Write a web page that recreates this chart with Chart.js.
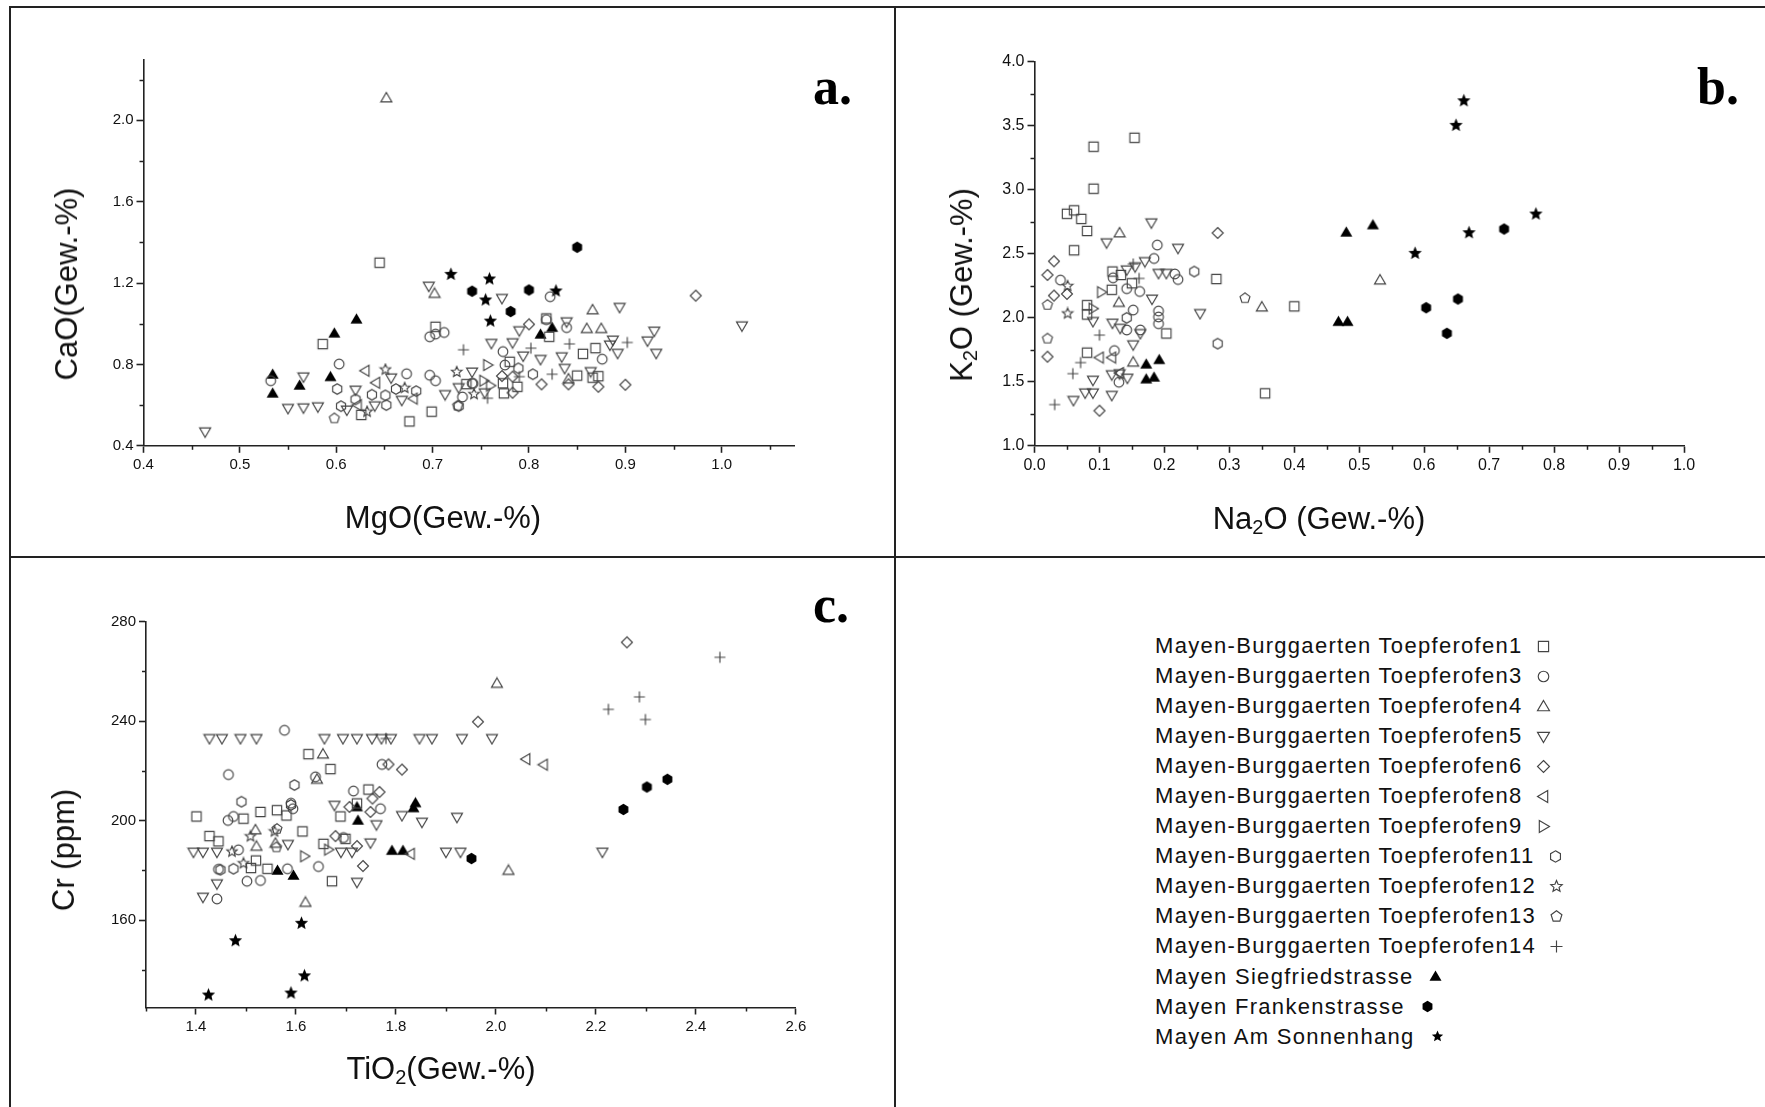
<!DOCTYPE html>
<html>
<head>
<meta charset="utf-8">
<script src="https://cdn.jsdelivr.net/npm/chart.js@4.4.0/dist/chart.umd.min.js"></script>
<style>
  body { margin: 0; background: #fff; }
  #page { position: relative; width: 1765px; height: 1107px; overflow: hidden; font-family: "Liberation Sans", Arial, sans-serif; }
  canvas.panel { position: absolute; }
  .line { position: absolute; background: #222; }
  .ttl { position: absolute; font-size: 31px; color: #111; white-space: nowrap; }
  .rot { transform: translate(-50%, -50%) rotate(-90deg); }
  .hz { transform: translate(-50%, -50%); }
  .ttl sub { font-size: 20px; vertical-align: -5px; line-height: 0; }
  .tag { position: absolute; font-family: "Liberation Serif", "Times New Roman", serif; font-weight: bold; font-size: 52px; line-height: 1; color: #000; }
  #legend { position: absolute; left: 1155px; top: 631px; font-size: 22px; letter-spacing: 1.3px; color: #111; }
  #legend div { height: 30.05px; white-space: nowrap; display: flex; align-items: center; }
</style>
</head>
<body>
<div id="page">
  <div class="line" style="left:9px;top:6px;width:2px;height:1101px"></div>
  <div class="line" style="left:9px;top:6px;width:1756px;height:2px"></div>
  <div class="line" style="left:894px;top:6px;width:2px;height:1101px"></div>
  <div class="line" style="left:9px;top:556px;width:1756px;height:2px"></div>

  <canvas id="chartA" class="panel" width="884" height="549" style="left:11px;top:8px"></canvas>
  <canvas id="chartB" class="panel" width="869" height="549" style="left:896px;top:8px"></canvas>
  <canvas id="chartC" class="panel" width="884" height="549" style="left:11px;top:558px"></canvas>

  <div class="ttl rot" style="left:67px;top:284px">CaO(Gew.-%)</div>
  <div class="ttl hz" style="left:443px;top:518px">MgO(Gew.-%)</div>
  <div class="ttl rot" style="left:962px;top:285px">K<sub>2</sub>O (Gew.-%)</div>
  <div class="ttl hz" style="left:1319px;top:519px">Na<sub>2</sub>O (Gew.-%)</div>
  <div class="ttl rot" style="left:64px;top:850px">Cr (ppm)</div>
  <div class="ttl hz" style="left:441px;top:1069px">TiO<sub>2</sub>(Gew.-%)</div>

  <div class="tag" style="left:813px;top:61px">a.</div>
  <div class="tag" style="left:1697px;top:61px">b.</div>
  <div class="tag" style="left:813px;top:579px">c.</div>

  <div id="legend"></div>
</div>
<script>
// series (kilns / sites)
const seriesNames = [
  'Mayen-Burggaerten Toepferofen1', 'Mayen-Burggaerten Toepferofen3', 'Mayen-Burggaerten Toepferofen4',
  'Mayen-Burggaerten Toepferofen5', 'Mayen-Burggaerten Toepferofen6', 'Mayen-Burggaerten Toepferofen8',
  'Mayen-Burggaerten Toepferofen9', 'Mayen-Burggaerten Toepferofen11', 'Mayen-Burggaerten Toepferofen12',
  'Mayen-Burggaerten Toepferofen13', 'Mayen-Burggaerten Toepferofen14',
  'Mayen Siegfriedstrasse', 'Mayen Frankenstrasse', 'Mayen Am Sonnenhang'
];
const seriesShapes = ['square', 'circle', 'triUp', 'triDown', 'diamond', 'triLeft', 'triRight',
  'hexagon', 'star', 'pentagon', 'plus', 'triUp', 'hexagon', 'star'];
const seriesFilled = [false, false, false, false, false, false, false, false, false, false, false, true, true, true];

// ---- a. MgO (x) / CaO (y) ----
const a_T1 = [[0.645,1.30],[0.586,0.90],[0.703,0.985],[0.626,0.552],[0.676,0.52],[0.699,0.568],[0.818,1.026],[0.821,0.936],
  [0.856,0.852],[0.869,0.88],[0.85,0.745],[0.872,0.742],[0.866,0.735],[0.78,0.813],[0.773,0.707],[0.788,0.69],[0.774,0.658],[0.735,0.703]];
const a_T3 = [[0.532,0.72],[0.603,0.802],[0.697,0.936],[0.703,0.949],[0.712,0.957],[0.697,0.747],[0.703,0.72],[0.673,0.754],
  [0.731,0.64],[0.742,0.706],[0.822,1.133],[0.818,1.02],[0.839,0.981],[0.773,0.863],[0.876,0.826],[0.775,0.797],[0.741,0.707]];
const a_T4 = [[0.652,2.11],[0.702,1.149],[0.866,1.068],[0.86,0.976],[0.875,0.976],[0.841,0.728]];
const a_T5 = [[0.464,0.469],[0.55,0.584],[0.566,0.587],[0.581,0.592],[0.566,0.739],[0.611,0.576],[0.62,0.674],[0.64,0.597],
  [0.657,0.734],[0.668,0.624],[0.696,1.185],[0.713,0.652],[0.741,0.763],[0.727,0.686],[0.772,1.125],[0.761,0.904],[0.783,0.907],
  [0.79,0.966],[0.794,0.842],[0.812,0.825],[0.839,1.01],[0.834,0.838],[0.837,0.781],[0.864,0.765],[0.894,1.081],[0.887,0.92],
  [0.884,0.896],[0.892,0.855],[0.923,0.916],[0.93,0.964],[0.932,0.855],[1.021,0.99],[0.754,0.661]];
const a_T6 = [[0.973,1.138],[0.8,0.997],[0.772,0.743],[0.783,0.74],[0.813,0.702],[0.841,0.702],[0.872,0.69],[0.9,0.70],[0.783,0.661]];
const a_T8 = [[0.63,0.769],[0.641,0.71],[0.68,0.632],[0.622,0.60]];
const a_T9 = [[0.757,0.797],[0.753,0.72],[0.76,0.696]];
const a_T11 = [[0.601,0.679],[0.605,0.595],[0.62,0.628],[0.637,0.651],[0.651,0.648],[0.652,0.60],[0.662,0.679],[0.683,0.669],
  [0.727,0.595],[0.789,0.781],[0.804,0.752]];
const a_T12 = [[0.632,0.568],[0.651,0.775],[0.671,0.685],[0.725,0.763],[0.743,0.654]];
const a_T13 = [[0.598,0.535],[0.726,0.597]];
const a_T14 = [[0.732,0.872],[0.802,0.88],[0.842,0.901],[0.902,0.908],[0.824,0.752],[0.757,0.634],[0.79,0.74]];
const a_Sieg = [[0.534,0.751],[0.534,0.658],[0.562,0.697],[0.594,0.739],[0.598,0.953],[0.621,1.022],[0.812,0.948],[0.824,0.981]];
const a_Frank = [[0.85,1.376],[0.741,1.16],[0.8,1.166],[0.781,1.06]];
const a_Sonnen = [[0.719,1.243],[0.759,1.22],[0.755,1.117],[0.76,1.013],[0.828,1.161]];

// ---- b. Na2O (x) / K2O (y) ----
const b_T1 = [[0.154,3.407],[0.091,3.337],[0.091,3.009],[0.05,2.813],[0.061,2.84],[0.072,2.773],[0.081,2.679],[0.061,2.528],
  [0.081,2.099],[0.081,2.026],[0.081,1.728],[0.12,2.362],[0.119,2.219],[0.133,2.335],[0.203,1.878],[0.28,2.303],[0.40,2.09],
  [0.355,1.41],[0.15,2.27]];
const b_T3 = [[0.189,2.569],[0.184,2.464],[0.191,2.053],[0.191,2.007],[0.191,1.954],[0.152,2.061],[0.142,1.905],[0.163,1.905],
  [0.123,1.744],[0.13,1.497],[0.216,2.343],[0.221,2.3],[0.162,2.206],[0.142,2.228],[0.121,2.313],[0.04,2.295]];
const b_T4 = [[0.131,2.663],[0.152,1.653],[0.35,2.084],[0.532,2.295],[0.13,2.12]];
const b_T5 = [[0.18,2.743],[0.111,2.587],[0.221,2.544],[0.255,2.034],[0.09,1.972],[0.06,1.355],[0.09,1.513],[0.09,1.414],
  [0.078,1.414],[0.119,1.395],[0.119,1.556],[0.131,1.564],[0.143,1.529],[0.152,1.79],[0.163,1.878],[0.181,2.147],[0.17,2.44],
  [0.155,2.4],[0.191,2.348],[0.203,2.348],[0.142,2.375],[0.12,1.959],[0.132,1.919]];
const b_T6 = [[0.282,2.663],[0.03,2.442],[0.02,2.335],[0.03,2.174],[0.02,1.696],[0.1,1.274],[0.05,2.187]];
const b_T8 = [[0.1,1.69],[0.119,1.69],[0.131,1.569]];
const b_T9 = [[0.103,2.2],[0.09,2.072]];
const b_T11 = [[0.246,2.362],[0.282,1.798],[0.142,2.0]];
const b_T12 = [[0.051,2.034],[0.051,2.249]];
const b_T13 = [[0.02,2.101],[0.02,1.838],[0.324,2.154]];
const b_T14 = [[0.031,1.322],[0.059,1.564],[0.071,1.65],[0.1,1.865],[0.152,2.421],[0.161,2.308]];
const b_Sieg = [[0.172,1.637],[0.192,1.672],[0.172,1.521],[0.184,1.535],[0.48,2.668],[0.521,2.725],[0.468,1.97],[0.482,1.97]];
const b_Frank = [[0.603,2.079],[0.652,2.147],[0.635,1.879],[0.723,2.694]];
const b_Sonnen = [[0.661,3.696],[0.649,3.504],[0.772,2.811],[0.669,2.665],[0.586,2.504]];

// ---- c. TiO2 (x) / Cr (y) ----
const c_T1 = [[1.625,226.7],[1.669,220.7],[1.401,201.7],[1.495,200.8],[1.529,203.5],[1.562,204.2],[1.581,202.1],[1.427,193.8],
  [1.445,191.7],[1.51,181],[1.543,180.7],[1.613,195.7],[1.655,190.7],[1.689,201.7],[1.699,192.7],[1.722,206.9],[1.745,212.5],
  [1.672,175.7],[1.52,184]];
const c_T3 = [[1.577,236.3],[1.465,218.5],[1.464,200.1],[1.475,201.7],[1.485,188.3],[1.502,175.7],[1.529,176],[1.442,168.6],
  [1.583,180.7],[1.645,181.6],[1.695,193.2],[1.715,211.9],[1.769,204.8],[1.772,222.6],[1.639,217.6],[1.594,204.8],[1.59,207],[1.445,180.5]];
const c_T4 = [[1.654,226.7],[1.642,216.6],[1.519,196.3],[1.521,189.7],[1.559,190.9],[1.619,167.2],[2.002,255.1],[2.025,180]];
const c_T5 = [[1.427,233],[1.452,233],[1.489,233],[1.521,233],[1.657,233],[1.694,233],[1.722,233],[1.752,233],[1.771,233],
  [1.79,233],[1.847,233],[1.872,233],[1.932,233],[1.992,233],[1.677,206.2],[1.761,198.4],[1.812,202.1],[1.852,199.4],
  [1.922,201.4],[1.749,191.1],[1.584,190.5],[1.395,187.4],[1.414,187.4],[1.442,187.4],[1.69,187.4],[1.712,187.4],[1.9,187.4],
  [1.929,187.4],[1.722,175.3],[1.442,174.7],[1.414,169.3],[2.213,187.4]];
const c_T6 = [[1.964,239.7],[1.785,222.6],[1.812,220.5],[1.767,211.5],[1.753,208.9],[1.749,203.5],[1.707,205.5],[1.679,193.8],
  [1.722,189.8],[1.734,181.8],[2.262,271.6]];
const c_T8 = [[1.829,186.7],[2.06,224.7],[2.095,222.5]];
const c_T9 = [[1.617,185.7],[1.665,188.4]];
const c_T11 = [[1.597,214.3],[1.491,207.6],[1.59,206.3],[1.449,180.3],[1.475,180.7]];
const c_T12 = [[1.509,193.7],[1.557,195.7],[1.472,187.6],[1.495,182.9]];
const c_T13 = [[1.562,196.7],[1.561,189.3]];
const c_T14 = [[2.448,265.6],[2.287,249.7],[2.225,244.7],[2.299,240.6],[1.78,233]];
const c_Sieg = [[1.722,205.5],[1.724,200.1],[1.839,207.1],[1.835,205.1],[1.792,188],[1.814,188],[1.563,180],[1.595,178]];
const c_Frank = [[1.951,184.8],[2.255,204.5],[2.302,213.5],[2.343,216.6]];
const c_Sonnen = [[1.425,130],[1.479,151.8],[1.59,130.8],[1.611,158.8],[1.617,137.7]];

// ticks
const aXTicks = [0.4, 0.5, 0.6, 0.7, 0.8, 0.9, 1.0];
const aXMinor = [0.45, 0.55, 0.65, 0.75, 0.85, 0.95, 1.05];
const aYTicks = [0.4, 0.8, 1.2, 1.6, 2.0];
const aYMinor = [0.6, 1.0, 1.4, 1.8, 2.2];
const bXTicks = [0.0, 0.1, 0.2, 0.3, 0.4, 0.5, 0.6, 0.7, 0.8, 0.9, 1.0];
const bXMinor = [0.05, 0.15, 0.25, 0.35, 0.45, 0.55, 0.65, 0.75, 0.85, 0.95];
const bYTicks = [1.0, 1.5, 2.0, 2.5, 3.0, 3.5, 4.0];
const bYMinor = [1.25, 1.75, 2.25, 2.75, 3.25, 3.75];
const cXTicks = [1.4, 1.6, 1.8, 2.0, 2.2, 2.4, 2.6];
const cXMinor = [1.3, 1.5, 1.7, 1.9, 2.1, 2.3, 2.5];
const cYTicks = [160, 200, 240, 280];
const cYMinor = [140, 180, 220, 260];

function makeSymbol(shape, filled, size) {
  const c = document.createElement('canvas');
  c.width = size; c.height = size;
  const g = c.getContext('2d');
  const m = size / 2;
  const r = size / 2 - 1.5;
  const poly = (n, start, rad) => {
    for (let k = 0; k < n; k++) {
      const a = (start + k * 360 / n) * Math.PI / 180;
      const px = m + rad * Math.cos(a), py = m + rad * Math.sin(a);
      k === 0 ? g.moveTo(px, py) : g.lineTo(px, py);
    }
    g.closePath();
  };
  g.beginPath();
  switch (shape) {
    case 'square': g.rect(m - r * 0.85, m - r * 0.85, r * 1.7, r * 1.7); break;
    case 'circle': g.arc(m, m, r * 0.88, 0, Math.PI * 2); break;
    case 'triUp': g.moveTo(m, m - r); g.lineTo(m + r, m + r * 0.7); g.lineTo(m - r, m + r * 0.7); g.closePath(); break;
    case 'triDown': g.moveTo(m, m + r); g.lineTo(m + r, m - r * 0.7); g.lineTo(m - r, m - r * 0.7); g.closePath(); break;
    case 'triLeft': g.moveTo(m - r, m); g.lineTo(m + r * 0.7, m - r); g.lineTo(m + r * 0.7, m + r); g.closePath(); break;
    case 'triRight': g.moveTo(m + r, m); g.lineTo(m - r * 0.7, m - r); g.lineTo(m - r * 0.7, m + r); g.closePath(); break;
    case 'diamond': g.moveTo(m, m - r); g.lineTo(m + r, m); g.lineTo(m, m + r); g.lineTo(m - r, m); g.closePath(); break;
    case 'hexagon': poly(6, -90, r * 0.95); break;
    case 'pentagon': poly(5, -90, r * 0.95); break;
    case 'star':
      for (let k = 0; k < 10; k++) {
        const a = (-90 + k * 36) * Math.PI / 180;
        const rad = k % 2 ? r * 0.45 : r;
        const px = m + rad * Math.cos(a), py = m + rad * Math.sin(a);
        k === 0 ? g.moveTo(px, py) : g.lineTo(px, py);
      }
      g.closePath();
      break;
    case 'plus': g.moveTo(m - r, m); g.lineTo(m + r, m); g.moveTo(m, m - r); g.lineTo(m, m + r); break;
  }
  if (filled) { g.fillStyle = '#000'; g.fill(); }
  else { g.strokeStyle = '#444'; g.lineWidth = 1.15; g.stroke(); }
  return c;
}

function symbolSize(i) {
  if (!seriesFilled[i]) return 14;
  return seriesShapes[i] === 'star' ? 17 : 15;
}

const minorTicks = {
  id: 'minorTicks',
  afterDraw(chart, args, opts) {
    const ctx = chart.ctx;
    const xs = chart.scales.x, ys = chart.scales.y;
    ctx.save();
    ctx.strokeStyle = '#222';
    ctx.lineWidth = 1.5;
    opts.x.forEach(v => {
      const px = Math.round(xs.getPixelForValue(v)) + 0.5;
      ctx.beginPath(); ctx.moveTo(px, xs.top); ctx.lineTo(px, xs.top + opts.len); ctx.stroke();
    });
    opts.y.forEach(v => {
      const py = Math.round(ys.getPixelForValue(v)) + 0.5;
      ctx.beginPath(); ctx.moveTo(ys.right, py); ctx.lineTo(ys.right - opts.len, py); ctx.stroke();
    });
    ctx.restore();
  }
};

function axisOpts(dir, min, max, ticks, fmt, font, size) {
  return {
    type: 'linear', min: min, max: max,
    position: dir === 'x' ? 'bottom' : 'left',
    border: { display: true, color: '#222', width: 1.6 },
    grid: { display: true, drawOnChartArea: false, drawTicks: true, tickLength: 7, tickColor: '#222', tickWidth: 1.6 },
    ticks: { autoSkip: false, maxRotation: 0, padding: 3, color: '#111', font: font, callback: v => fmt(v) },
    afterBuildTicks: s => { s.ticks = ticks.map(v => ({ value: v })); },
    afterFit: s => { if (dir === 'x') s.height = size; else s.width = size; }
  };
}

function makePanel(id, series, o) {
  new Chart(document.getElementById(id), {
    type: 'scatter',
    data: {
      datasets: series.map((pts, i) => ({
        label: seriesNames[i],
        data: pts.map(p => ({ x: p[0], y: p[1] })),
        pointStyle: makeSymbol(seriesShapes[i], seriesFilled[i], symbolSize(i)),
        pointRadius: 6,
        clip: false
      }))
    },
    options: {
      responsive: false,
      animation: false,
      events: [],
      layout: { padding: { left: 0, top: o.padTop, right: o.padRight, bottom: 0 } },
      plugins: {
        legend: { display: false },
        tooltip: { enabled: false },
        minorTicks: { x: o.xMinor, y: o.yMinor, len: 4 }
      },
      scales: {
        x: axisOpts('x', o.xMin, o.xMax, o.xTicks, o.xFmt, o.font, o.xH),
        y: axisOpts('y', o.yMin, o.yMax, o.yTicks, o.yFmt, o.font, o.yW)
      }
    },
    plugins: [minorTicks]
  });
}

const narrow = { family: '"Liberation Sans Narrow", "Arial Narrow", "Liberation Sans", sans-serif', size: 15 };
const regular = { family: '"Liberation Sans", Arial, sans-serif', size: 16 };
const f1 = v => v.toFixed(1);
const f0 = v => v.toFixed(0);

makePanel('chartA', [a_T1, a_T3, a_T4, a_T5, a_T6, a_T8, a_T9, a_T11, a_T12, a_T13, a_T14, a_Sieg, a_Frank, a_Sonnen], {
  xMin: 0.4, xMax: 1.075, yMin: 0.4, yMax: 2.3,
  xTicks: aXTicks, xMinor: aXMinor, yTicks: aYTicks, yMinor: aYMinor,
  xFmt: f1, yFmt: f1, font: narrow,
  padTop: 51.3, padRight: 101, xH: 111.2, yW: 132.5
});
makePanel('chartB', [b_T1, b_T3, b_T4, b_T5, b_T6, b_T8, b_T9, b_T11, b_T12, b_T13, b_T14, b_Sieg, b_Frank, b_Sonnen], {
  xMin: 0, xMax: 1.0, yMin: 1.0, yMax: 4.0,
  xTicks: bXTicks, xMinor: bXMinor, yTicks: bYTicks, yMinor: bYMinor,
  xFmt: f1, yFmt: f1, font: regular,
  padTop: 53.9, padRight: 81, xH: 111.2, yW: 138.5
});
makePanel('chartC', [c_T1, c_T3, c_T4, c_T5, c_T6, c_T8, c_T9, c_T11, c_T12, c_T13, c_T14, c_Sieg, c_Frank, c_Sonnen], {
  xMin: 1.3, xMax: 2.6, yMin: 125, yMax: 280,
  xTicks: cXTicks, xMinor: cXMinor, yTicks: cYTicks, yMinor: cYMinor,
  xFmt: f1, yFmt: f0, font: narrow,
  padTop: 63.4, padRight: 99.1, xH: 99.5, yW: 135
});

// legend panel
const legend = document.getElementById('legend');
seriesNames.forEach((name, i) => {
  const row = document.createElement('div');
  const txt = document.createElement('span');
  txt.textContent = name;
  row.appendChild(txt);
  const sym = makeSymbol(seriesShapes[i], seriesFilled[i], 15);
  sym.style.marginLeft = (seriesFilled[i] ? 15 : 13) + 'px';
  row.appendChild(sym);
  legend.appendChild(row);
});
</script>
</body>
</html>
